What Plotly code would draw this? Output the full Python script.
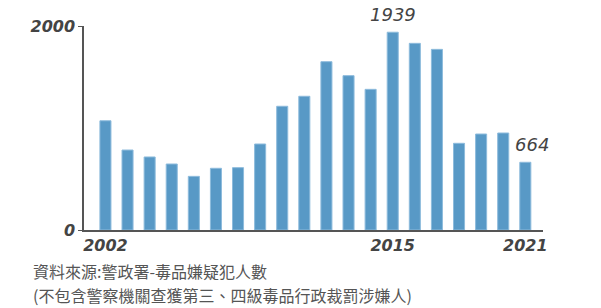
import plotly.graph_objects as go

years = list(range(2002, 2022))
suspects = [1071, 784, 716, 647, 526, 605, 611, 843, 1213, 1311,
            1650, 1513, 1379, 1939, 1830, 1771, 850, 941, 951, 664]
y_ticks = [0, 2000]
x_ticks = [2002, 2015, 2021]
source_line1 = "資料來源:警政署-毒品嫌疑犯人數"
source_line2 = "(不包含警察機關查獲第三、四級毒品行政裁罰涉嫌人)"

bar_color = "#5899C6"
edge_color = "#8DBBDC"
ink = "#444444"
num_font = dict(family="DejaVu Sans", size=16, color=ink, weight="bold", style="italic")

fig = go.Figure()
fig.add_trace(go.Bar(
    x=years, y=suspects,
    marker=dict(color=bar_color, line=dict(color=edge_color, width=1)),
    hoverinfo="x+y",
))

fig.add_annotation(x=2015, y=suspects[years.index(2015)], xref="x", yref="y",
                   text="1939", showarrow=False, yanchor="bottom", yshift=5,
                   font=dict(family="DejaVu Sans", size=18, color=ink, style="italic"))
fig.add_annotation(x=2021, y=suspects[years.index(2021)], xref="x", yref="y",
                   text="664", showarrow=False, yanchor="bottom", yshift=5, xshift=7,
                   font=dict(family="DejaVu Sans", size=18, color=ink, style="italic"))

src_font = dict(family="Noto Sans CJK TC", size=16, color="#555555")
for txt, shift in [(source_line1, -41), (source_line2, -65)]:
    fig.add_annotation(x=0, y=0, xref="paper", yref="paper", xanchor="left", yanchor="middle",
                       text=txt, align="left", showarrow=False, xshift=-53, yshift=shift,
                       font=src_font)

fig.update_layout(
    width=601, height=308,
    margin=dict(l=84, r=58, t=26, b=78),
    plot_bgcolor="white", paper_bgcolor="white",
    bargap=0.5, showlegend=False,
    xaxis=dict(range=[2001.03, 2021.8], tickvals=x_ticks, ticktext=[str(v) for v in x_ticks],
               showline=True, linecolor="#555555", linewidth=1.5, showgrid=False,
               zeroline=False, ticks="", tickfont=num_font),
    yaxis=dict(range=[0, 2000], tickvals=y_ticks, ticktext=[str(v) for v in y_ticks],
               showline=True, linecolor="#555555", linewidth=1.5, showgrid=False,
               zeroline=False, ticks="outside", ticklen=4, tickcolor="#555555",
               tickfont=num_font),
)

fig.write_html("out.html")
